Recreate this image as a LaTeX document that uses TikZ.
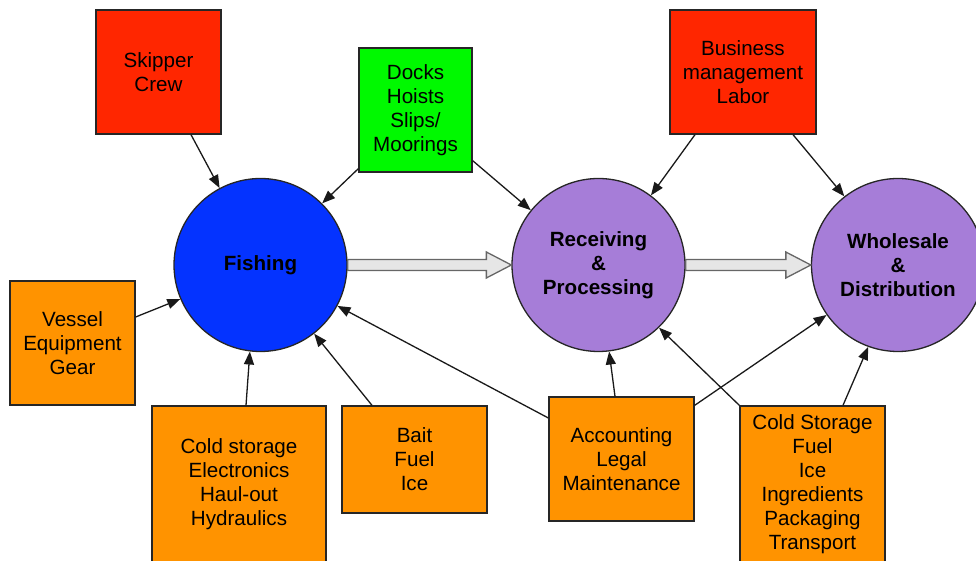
\documentclass[tikz,border=0pt]{standalone}
\usepackage{fontspec}
\setmainfont{Liberation Sans}
\usepackage{tikz}
\usetikzlibrary{calc, arrows.meta}
\tikzset{>={Triangle[length=6.5pt,width=5pt]}}
\usepackage{xcolor}
\definecolor{boxred}{HTML}{FF2600}
\definecolor{boxgreen}{HTML}{00F900}
\definecolor{boxorange}{HTML}{FF9300}
\definecolor{stageblue}{HTML}{0433FF}
\definecolor{stagepurple}{HTML}{A67DD8}
\definecolor{flowgray}{HTML}{E6E6E6}

\begin{document}
\begin{tikzpicture}[x=0.5pt,y=-0.5pt,
		input/.style={draw=black!85, line width=0.65pt, align=center, inner sep=0pt, font=\fontsize{10.3}{12}\selectfont},
		stage/.style={circle, draw=black!85, line width=0.65pt, minimum size=86.5pt, align=center, inner sep=0pt, font=\fontsize{10.3}{12}\selectfont\bfseries},
		link/.style={->, line width=0.65pt, black!90},
		flow/.style={fill=flowgray, draw=black!60, line width=0.65pt, line join=miter}]
			\path[use as bounding box, clip] (0,0) rectangle (976,561);
			% stages
			\node[stage, fill=stageblue] (fishing) at (260.5,265) {Fishing};
			\node[stage, fill=stagepurple] (receiving) at (598.5,265) {Receiving\\\&\\Processing};
			\node[stage, fill=stagepurple] (wholesale) at (898,265) {Wholesale\\\&\\Distribution};
			% inputs
			\node[input, fill=boxred, minimum width=62.5pt, minimum height=62pt] (skipper) at (158.5,72) {Skipper\\Crew};
			\node[input, fill=boxgreen, minimum width=56.5pt, minimum height=62pt] (docks) at (415.5,110) {Docks\\Hoists\\Slips/\\Moorings};
			\node[input, fill=boxred, minimum width=73pt, minimum height=62pt] (business) at (743,72) {Business\\management\\Labor};
			\node[input, fill=boxorange, minimum width=62.5pt, minimum height=62pt] (vessel) at (72.5,343) {Vessel\\Equipment\\Gear};
			\node[input, fill=boxorange, minimum width=87pt, minimum height=78pt] (coldfish) at (239,484) {Cold storage\\Electronics\\Haul-out\\Hydraulics};
			\node[input, fill=boxorange, minimum width=72.5pt, minimum height=53.5pt] (bait) at (414.5,459.5) {Bait\\Fuel\\Ice};
			\node[input, fill=boxorange, minimum width=72.5pt, minimum height=62pt] (accounting) at (621.5,459) {Accounting\\Legal\\Maintenance};
			\node[input, fill=boxorange, minimum width=72.5pt, minimum height=78pt] (coldproc) at (812.5,484) {Cold Storage\\Fuel\\Ice\\Ingredients\\Packaging\\Transport};
			% product flow
			\draw[flow] ($(fishing.east)+(0,-5.5)$) -- ($(receiving.west)+(-25,-5.5)$) -- ($(receiving.west)+(-25,-13)$) -- (receiving.west) -- ($(receiving.west)+(-25,13)$) -- ($(receiving.west)+(-25,5.5)$) -- ($(fishing.east)+(0,5.5)$) -- cycle;
			\draw[flow] ($(receiving.east)+(0,-5.5)$) -- ($(wholesale.west)+(-25,-5.5)$) -- ($(wholesale.west)+(-25,-13)$) -- (wholesale.west) -- ($(wholesale.west)+(-25,13)$) -- ($(wholesale.west)+(-25,5.5)$) -- ($(receiving.east)+(0,5.5)$) -- cycle;
			% inputs to stages
			\draw[link] ($(skipper.south)+(32.5,0)$) -- (fishing.118);
			\draw[link] ($(docks.south west)+(0,-4)$) -- (fishing.45);
			\draw[link] ($(docks.south east)+(0,-12)$) -- (receiving.141);
			\draw[link] ($(business.south)+(-48,0)$) -- (receiving.53);
			\draw[link] ($(business.south)+(50,0)$) -- (wholesale.128);
			\draw[link] ($(vessel.east)+(0,-26)$) -- (fishing.203);
			\draw[link] ($(coldfish.north)+(7,0)$) -- (fishing.263);
			\draw[link] ($(bait.north)+(-42.5,0)$) -- (fishing.308);
			\draw[link] ($(accounting.west)+(0,-41)$) -- (fishing.332);
			\draw[link] ($(accounting.north)+(-6.5,0)$) -- (receiving.277);
			\draw[link] ($(accounting.north east)+(0,9)$) -- (wholesale.215);
			\draw[link] (coldproc.north west) -- (receiving.314);
			\draw[link] ($(coldproc.north)+(30.5,0)$) -- (wholesale.250);
		\end{tikzpicture}
\end{document}
